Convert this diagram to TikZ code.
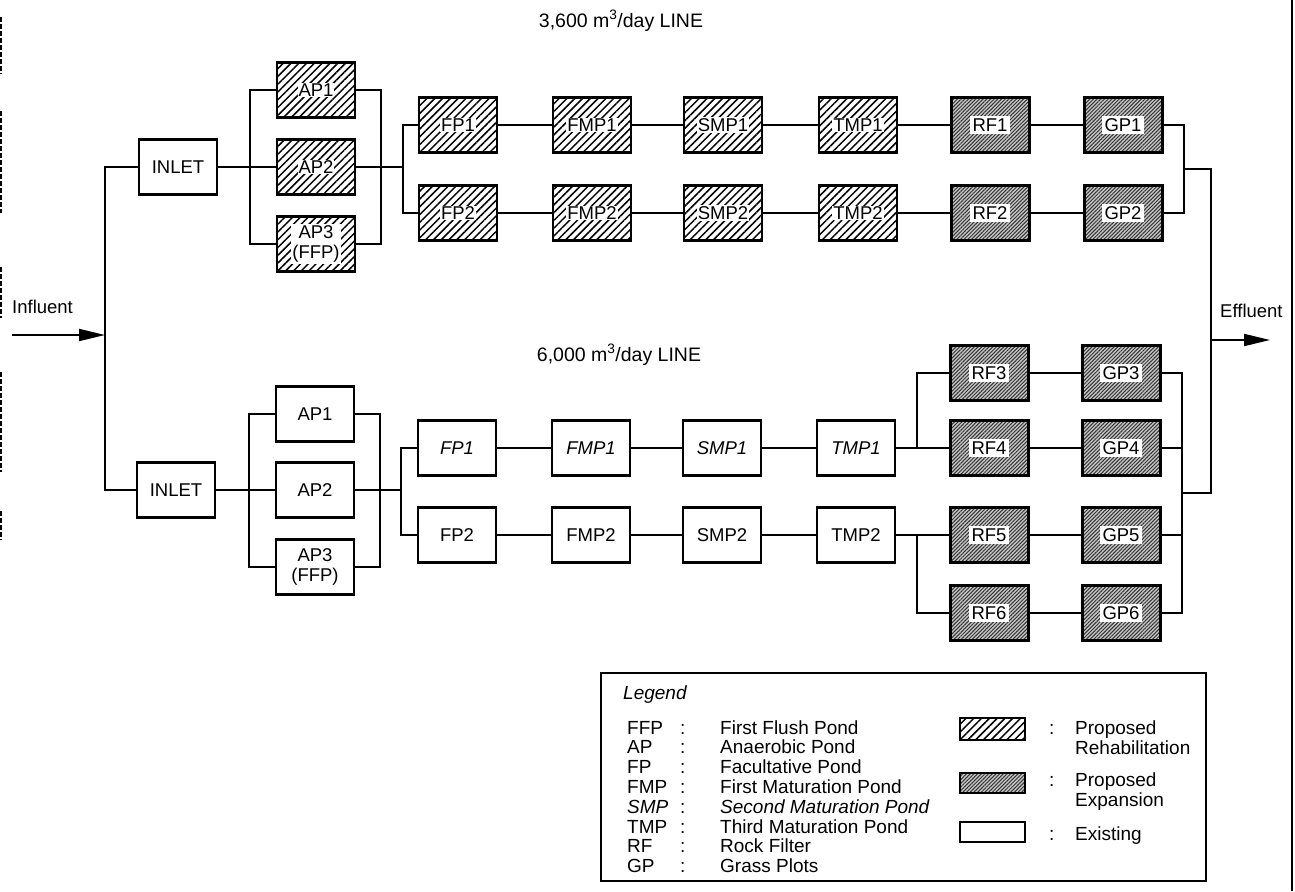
\documentclass[tikz,border=0pt]{standalone}
\usepackage{fontspec}
\setmainfont{Liberation Sans}
\usetikzlibrary{patterns.meta,arrows.meta}
\tikzset{
  base/.style={draw, line width=2.4pt, minimum width=78pt, minimum height=55pt, inner sep=0pt},
  exist/.style={base, fill=white},
  rehab/.style={base, pattern={Lines[angle=45,distance=5.5pt,line width=1.5pt]}},
  expan/.style={base, line width=3pt, preaction={fill=black!22},
    pattern={Lines[angle=45,distance=2.6pt,line width=1pt]}, pattern color=black!80},
  txt/.style={font=\fontsize{18.5}{20.5}\selectfont, inner sep=0pt, align=center},
  ltxt/.style={font=\fontsize{19}{20.5}\selectfont, inner sep=0pt, anchor=base west},
  existlbl/.style={txt},
  rehablbl/.style={txt, fill=white, inner sep=1pt},
  expanlbl/.style={txt, fill=white, inner sep=2.5pt},
  wire/.style={line width=1.9pt},
  flow/.style={wire, -{Triangle[length=26pt,width=12pt]}},
}
\newcommand{\pond}[4]{\node[#1] (#2) at (#3) {}; \node[#1lbl] (#2t) at (#2) {#4};}
\begin{document}
\begin{tikzpicture}[x=1pt,y=-1pt]
\useasboundingbox (0,0) rectangle (1295,891);
% scan border
\draw[line width=2pt] (1292,0) -- (1292,891);
\draw[line width=2pt, dash pattern=on 5pt off 2pt] (1,17) -- (1,74) (1,111) -- (1,213) (1,267) -- (1,318) (1,372) -- (1,472) (1,511) -- (1,540);

% titles
\node[txt, font=\fontsize{19.5}{21}\selectfont] (title1) at (621,21) {3,600 m\textsuperscript{3}/day LINE};
\node[txt, font=\fontsize{19.5}{21}\selectfont] (title2) at (619,355) {6,000 m\textsuperscript{3}/day LINE};
\node[txt, anchor=west] (infl) at (12,307) {Influent};
\node[txt, anchor=west] (effl) at (1220,311) {Effluent};

% ---------- top line ----------
\pond{exist}{tIN}{178,167}{INLET}
\pond{rehab}{tAP1}{316,90}{AP1}
\pond{rehab}{tAP2}{316,167}{AP2}
\pond{rehab}{tAP3}{316,244}{AP3\\(FFP)}
\pond{rehab}{tFP1}{458,125}{FP1}
\pond{rehab}{tFP2}{458,213}{FP2}
\pond{rehab}{tFMP1}{592,125}{FMP1}
\pond{rehab}{tFMP2}{592,213}{FMP2}
\pond{rehab}{tSMP1}{723,125}{SMP1}
\pond{rehab}{tSMP2}{723,213}{SMP2}
\pond{rehab}{tTMP1}{858,125}{TMP1}
\pond{rehab}{tTMP2}{858,213}{TMP2}
\pond{expan}{tRF1}{990,125}{RF1}
\pond{expan}{tRF2}{990,213}{RF2}
\pond{expan}{tGP1}{1123,125}{GP1}
\pond{expan}{tGP2}{1123,213}{GP2}

% ---------- bottom line ----------
\pond{exist}{bIN}{176,490}{INLET}
\pond{exist}{bAP1}{315,414}{AP1}
\pond{exist}{bAP2}{315,490}{AP2}
\pond{exist}{bAP3}{315,567}{AP3\\(FFP)}
\pond{exist}{bFP1}{457,448}{\itshape FP1}
\pond{exist}{bFP2}{457,535}{FP2}
\pond{exist}{bFMP1}{591,448}{\itshape FMP1}
\pond{exist}{bFMP2}{591,535}{FMP2}
\pond{exist}{bSMP1}{722,448}{\itshape SMP1}
\pond{exist}{bSMP2}{722,535}{SMP2}
\pond{exist}{bTMP1}{856,448}{\itshape TMP1}
\pond{exist}{bTMP2}{856,535}{TMP2}
\pond{expan}{bRF3}{989,373}{RF3}
\pond{expan}{bRF4}{989,448}{RF4}
\pond{expan}{bRF5}{989,535}{RF5}
\pond{expan}{bRF6}{989,613}{RF6}
\pond{expan}{bGP3}{1121,373}{GP3}
\pond{expan}{bGP4}{1121,448}{GP4}
\pond{expan}{bGP5}{1121,535}{GP5}
\pond{expan}{bGP6}{1121,613}{GP6}

% ---------- junction points ----------
\coordinate (inS) at (12,335);
\coordinate (inJ) at (105,335);
\coordinate (tLB) at (250,167);
\coordinate (tRB) at (381,167);
\coordinate (tFB) at (403,167);
\coordinate (tEB) at (1184,169);
\coordinate (bLB) at (249,490);
\coordinate (bRB) at (380,490);
\coordinate (bFB) at (401,490);
\coordinate (bBr1) at (917,448);
\coordinate (bBr2) at (917,535);
\coordinate (bEB) at (1182,493);
\coordinate (outT) at (1211,169);
\coordinate (outB) at (1211,493);
\coordinate (outJ) at (1211,340);
\coordinate (outE) at (1270,340);

% ---------- connectors ----------
\draw[flow] (inS) -- (inJ);
\draw[wire] (tIN.west) -| (inJ);
\draw[wire] (bIN.west) -| (inJ);

% top
\draw[wire] (tIN) -- (tAP2);
\draw[wire] (tAP1.west) -| (tLB);
\draw[wire] (tAP3.west) -| (tLB);
\draw[wire] (tAP1.east) -| (tRB);
\draw[wire] (tAP3.east) -| (tRB);
\draw[wire] (tAP2.east) -- (tFB);
\draw[wire] (tFP1.west) -| (tFB);
\draw[wire] (tFP2.west) -| (tFB);
\draw[wire] (tFP1) -- (tFMP1);
\draw[wire] (tFMP1) -- (tSMP1);
\draw[wire] (tSMP1) -- (tTMP1);
\draw[wire] (tTMP1) -- (tRF1);
\draw[wire] (tRF1) -- (tGP1);
\draw[wire] (tFP2) -- (tFMP2);
\draw[wire] (tFMP2) -- (tSMP2);
\draw[wire] (tSMP2) -- (tTMP2);
\draw[wire] (tTMP2) -- (tRF2);
\draw[wire] (tRF2) -- (tGP2);
\draw[wire] (tGP1.east) -| (tEB);
\draw[wire] (tGP2.east) -| (tEB);
\draw[wire] (tEB) -- (outT) -- (outB) -- (bEB);
\draw[flow] (outJ) -- (outE);

% bottom
\draw[wire] (bIN) -- (bAP2);
\draw[wire] (bAP1.west) -| (bLB);
\draw[wire] (bAP3.west) -| (bLB);
\draw[wire] (bAP1.east) -| (bRB);
\draw[wire] (bAP3.east) -| (bRB);
\draw[wire] (bAP2.east) -- (bFB);
\draw[wire] (bFP1.west) -| (bFB);
\draw[wire] (bFP2.west) -| (bFB);
\draw[wire] (bFP1) -- (bFMP1);
\draw[wire] (bFMP1) -- (bSMP1);
\draw[wire] (bSMP1) -- (bTMP1);
\draw[wire] (bTMP1) -- (bRF4);
\draw[wire] (bRF4) -- (bGP4);
\draw[wire] (bFP2) -- (bFMP2);
\draw[wire] (bFMP2) -- (bSMP2);
\draw[wire] (bSMP2) -- (bTMP2);
\draw[wire] (bTMP2) -- (bRF5);
\draw[wire] (bRF5) -- (bGP5);
\draw[wire] (bRF3.west) -| (bBr1);
\draw[wire] (bRF6.west) -| (bBr2);
\draw[wire] (bRF3) -- (bGP3);
\draw[wire] (bRF6) -- (bGP6);
\draw[wire] (bGP3.east) -| (bEB);
\draw[wire] (bGP4.east) -| (bEB);
\draw[wire] (bGP5.east) -| (bEB);
\draw[wire] (bGP6.east) -| (bEB);

% ---------- legend ----------
\node[draw, line width=1.6pt, minimum width=605pt, minimum height=208pt, anchor=north west, inner sep=0pt] (leg) at (600,672) {};
\node[ltxt, font=\fontsize{19}{20.5}\selectfont\itshape] (legT) at (623,699) {Legend};
\foreach \a/\d [count=\i from 0] in {FFP/First Flush Pond, AP/Anaerobic Pond, FP/Facultative Pond, FMP/First Maturation Pond, {\itshape SMP}/{\itshape Second Maturation Pond}, TMP/Third Maturation Pond, RF/Rock Filter, GP/Grass Plots}{
  \node[ltxt] (la\i) at (627,{734+19.8*\i}) {\a};
  \node[ltxt] (lc\i) at (680,{734+19.8*\i}) {:};
  \node[ltxt] (ld\i) at (720,{734+19.8*\i}) {\d};
}
\node[rehab, minimum width=65pt, minimum height=22pt, line width=1.8pt] (sw1) at (992.5,729) {};
\node[expan, minimum width=65pt, minimum height=20pt, line width=1.8pt] (sw2) at (992.5,783) {};
\node[exist, minimum width=65pt, minimum height=20pt, line width=1.8pt] (sw3) at (992.5,832) {};
\node[ltxt] (sc1) at (1049,734) {:};
\node[ltxt] (sc2) at (1049,786) {:};
\node[ltxt] (sc3) at (1049,840) {:};
\node[ltxt] (st1a) at (1075,734) {Proposed};
\node[ltxt] (st1b) at (1075,754) {Rehabilitation};
\node[ltxt] (st2a) at (1075,786) {Proposed};
\node[ltxt] (st2b) at (1075,806) {Expansion};
\node[ltxt] (st3) at (1075,840) {Existing};
\end{tikzpicture}
\end{document}
